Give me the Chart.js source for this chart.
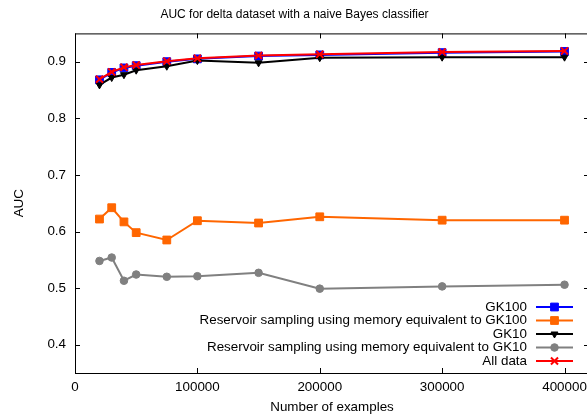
<!DOCTYPE html>
<html>
<head>
<meta charset="utf-8">
<script src="https://cdn.jsdelivr.net/npm/chart.js@4/dist/chart.umd.min.js"></script>
<style>
  html, body { margin: 0; padding: 0; background: #fff; overflow: hidden; }
  #wrap { width: 620px; height: 418px; }
</style>
</head>
<body>
<div id="wrap"><canvas id="auc-chart"></canvas></div>
<script>
// --- data ---
const numExamples = [20000, 30000, 40000, 50000, 75000, 100000, 150000, 200000, 300000, 400000];
const gk100 =        [0.868, 0.881, 0.889, 0.893, 0.900, 0.905, 0.910, 0.912, 0.916, 0.918];
const reservoir100 = [0.622, 0.642, 0.617, 0.598, 0.585, 0.619, 0.615, 0.626, 0.620, 0.620];
const gk10 =         [0.859, 0.872, 0.877, 0.885, 0.892, 0.902, 0.898, 0.907, 0.908, 0.908];
const reservoir10 =  [0.548, 0.554, 0.513, 0.524, 0.520, 0.521, 0.527, 0.499, 0.503, 0.506];
const allData =      [0.869, 0.882, 0.890, 0.894, 0.901, 0.906, 0.911, 0.913, 0.917, 0.919];

const seriesLabels = [
  'GK100',
  'Reservoir sampling using memory equivalent to GK100',
  'GK10',
  'Reservoir sampling using memory equivalent to GK10',
  'All data'
];
const xTicks = [0, 100000, 200000, 300000, 400000];
const yTicks = [0.4, 0.5, 0.6, 0.7, 0.8, 0.9];

const FONT = "'Liberation Sans', Arial, sans-serif";
const toPoints = (ys) => ys.map((y, i) => ({ x: numExamples[i], y }));

// gnuplot-style box with inward ticks on all four sides + right-aligned key
const gnuplotFrame = {
  id: 'gnuplotFrame',
  afterDatasetsDraw(chart) {
    const { ctx, chartArea: a, scales } = chart;
    ctx.save();
    ctx.strokeStyle = '#000';
    ctx.lineWidth = 1;
    ctx.strokeRect(a.left + 0.5, a.top + 0.5, a.right - a.left, a.bottom - a.top);
    const tl = 5;
    ctx.beginPath();
    xTicks.forEach(v => {
      const x = Math.round(scales.x.getPixelForValue(v)) + 0.5;
      ctx.moveTo(x, a.bottom); ctx.lineTo(x, a.bottom - tl);
      ctx.moveTo(x, a.top); ctx.lineTo(x, a.top + tl);
    });
    yTicks.forEach(v => {
      const y = Math.round(scales.y.getPixelForValue(v)) + 0.5;
      ctx.moveTo(a.left, y); ctx.lineTo(a.left + tl, y);
      ctx.moveTo(a.right, y); ctx.lineTo(a.right - tl, y);
    });
    ctx.stroke();

    // key
    const textRight = 527, lineL = 536, lineR = 573, top = 307, step = 13.5;
    ctx.font = '13.4px ' + FONT;
    ctx.textAlign = 'right';
    ctx.textBaseline = 'middle';
    seriesLabels.forEach((label, i) => {
      const ds = chart.data.datasets.find(d => d.label === label);
      const y = top + i * step;
      ctx.fillStyle = '#000';
      ctx.fillText(label, textRight, y);
      ctx.strokeStyle = ds.borderColor;
      ctx.lineWidth = ds.borderWidth;
      ctx.beginPath();
      ctx.moveTo(lineL, y); ctx.lineTo(lineR, y);
      ctx.stroke();
      ctx.fillStyle = ds.pointBackgroundColor;
      ctx.strokeStyle = ds.pointBorderColor;
      ctx.lineWidth = ds.pointBorderWidth;
      Chart.helpers.drawPoint(ctx, {
        pointStyle: ds.pointStyle, radius: ds.pointRadius,
        rotation: ds.pointRotation || 0, borderWidth: ds.pointBorderWidth
      }, (lineL + lineR) / 2, y);
    });
    ctx.restore();
  }
};

const mkSeries = (label, ys, color, style, radius, extra) => Object.assign({
  label,
  data: toPoints(ys),
  borderColor: color,
  backgroundColor: color,
  pointBackgroundColor: color,
  pointBorderColor: color,
  pointBorderWidth: 1,
  pointStyle: style,
  pointRadius: radius,
  borderWidth: 2,
  tension: 0
}, extra || {});

new Chart(document.getElementById('auc-chart'), {
  type: 'line',
  data: {
    datasets: [
      mkSeries(seriesLabels[0], gk100, '#0000ff', 'rect', 5.5, { order: 4 }),
      mkSeries(seriesLabels[1], reservoir100, '#ff6600', 'rect', 5.5, { order: 3 }),
      mkSeries(seriesLabels[2], gk10, '#000000', 'triangle', 4, { order: 2, pointRotation: 180 }),
      mkSeries(seriesLabels[3], reservoir10, '#808080', 'circle', 3.8, { order: 1 }),
      mkSeries(seriesLabels[4], allData, '#ff0000', 'crossRot', 5, { order: 0, pointBorderWidth: 2 })
    ]
  },
  options: {
    responsive: true,
    maintainAspectRatio: false,
    animation: false,
    layout: { padding: { left: 0, right: 31, top: 0, bottom: 3 } },
    plugins: {
      legend: { display: false },
      tooltip: { enabled: false },
      title: {
        display: true,
        text: 'AUC for delta dataset with a naive Bayes classifier',
        color: '#000',
        font: { family: FONT, size: 12, weight: 'normal' },
        padding: { top: 7, bottom: 12 }
      }
    },
    scales: {
      x: {
        type: 'linear',
        min: 0, max: 420000,
        afterBuildTicks: (s) => { s.ticks = xTicks.map(v => ({ value: v })); },
        afterFit: (s) => { s.height = 42; },
        grid: { display: false, drawTicks: false },
        border: { display: false },
        ticks: { color: '#000', padding: 6, maxRotation: 0, font: { family: FONT, size: 13.4 },
                 callback: (v) => String(v) },
        title: { display: true, text: 'Number of examples', color: '#000',
                 font: { family: FONT, size: 13.4 }, padding: { top: 2, bottom: 0 } }
      },
      y: {
        min: 0.35, max: 0.95,
        afterBuildTicks: (s) => { s.ticks = yTicks.map(v => ({ value: v })); },
        afterFit: (s) => { s.width = 75; },
        grid: { display: false, drawTicks: false },
        border: { display: false },
        ticks: { color: '#000', padding: 9, font: { family: FONT, size: 13.4 },
                 callback: (v) => v.toFixed(1) },
        title: { display: true, text: 'AUC', color: '#000',
                 font: { family: FONT, size: 13.4 }, padding: { top: 11, bottom: 0 } }
      }
    }
  },
  plugins: [gnuplotFrame]
});
</script>
</body>
</html>
